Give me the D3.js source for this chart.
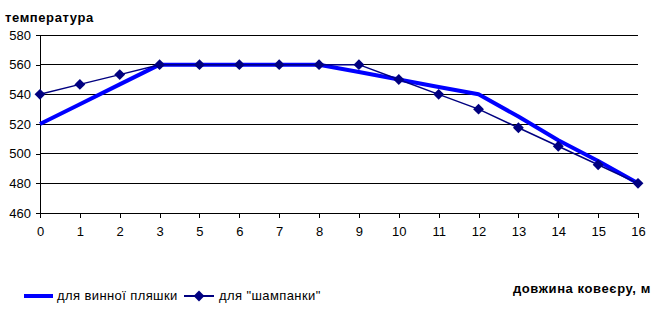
<!DOCTYPE html>
<html><head><meta charset="utf-8">
<script src="https://cdn.jsdelivr.net/npm/d3@7"></script>
<style>body{margin:0;background:#fff}svg{display:block}text{font-family:"Liberation Sans",Arial,sans-serif}</style>
</head><body><svg id="c" width="665" height="311"></svg>
<script>
const categories = ["0","1","2","3","5","6","7","8","9","10","11","12","13","14","15","16"];
const wine = [520,533.3,546.7,560,560,560,560,560,555,550,545,540,525,509,495,480];
const champagne = [540,546.7,553.3,560,560,560,560,560,560,550,540,530,517.5,505,492.5,480];
const yTicks = [460,480,500,520,540,560,580];
const seriesNames = ["для винної пляшки","для \"шампанки\""];

const svg = d3.select("#c");
const x = d3.scalePoint().domain(categories).range([40,638]);
const y = d3.scaleLinear().domain([460,580]).range([213,35]);

// gridlines
svg.append("g").selectAll("line").data(yTicks.filter(v=>v>460)).join("line")
  .attr("x1",40).attr("x2",638).attr("y1",d=>y(d)).attr("y2",d=>y(d))
  .attr("stroke","#000").attr("stroke-width",1).attr("shape-rendering","crispEdges");

const yAxis = svg.append("g").attr("transform","translate(40,0)")
  .call(d3.axisLeft(y).tickValues(yTicks).tickSize(4).tickPadding(5));
const xAxis = svg.append("g").attr("transform","translate(0,213)")
  .call(d3.axisBottom(x).tickSize(5).tickPadding(9));
[yAxis,xAxis].forEach(a=>{
  a.select(".domain").attr("stroke","#000").attr("shape-rendering","crispEdges");
  a.selectAll(".tick line").attr("stroke","#000").attr("shape-rendering","crispEdges");
  a.selectAll("text").attr("font-size",13).attr("fill","#000").attr("font-family","Liberation Sans, Arial, sans-serif");
});

const line = d3.line().x((d,i)=>x(categories[i])).y(d=>y(d));
svg.append("path").datum(wine).attr("d",line).attr("fill","none")
  .attr("stroke","#0000FF").attr("stroke-width",4).attr("stroke-linejoin","round");
svg.append("path").datum(champagne).attr("d",line).attr("fill","none")
  .attr("stroke","#000080").attr("stroke-width",1.5);
const diamond = d3.symbol().type(d3.symbolDiamond2).size(75);
svg.append("g").selectAll("path").data(champagne).join("path")
  .attr("transform",(d,i)=>`translate(${x(categories[i])},${y(d)})`)
  .attr("d",diamond).attr("fill","#000080");

svg.append("text").attr("x",5).attr("y",22).attr("font-size",13).attr("letter-spacing",0.6).attr("font-weight","bold").text("температура");
svg.append("text").attr("x",651).attr("y",293).attr("text-anchor","end").attr("font-size",13).attr("letter-spacing",0.6).attr("font-weight","bold").text("довжина ковеєру, м");

// legend
const lg = svg.append("g");
lg.append("line").attr("x1",24).attr("x2",53).attr("y1",296).attr("y2",296).attr("stroke","#0000FF").attr("stroke-width",4);
lg.append("text").attr("x",57).attr("y",300).attr("font-size",13).attr("letter-spacing",0.4).text(seriesNames[0]);
lg.append("line").attr("x1",184).attr("x2",214).attr("y1",296).attr("y2",296).attr("stroke","#000080").attr("stroke-width",2);
lg.append("path").attr("transform","translate(199,296)").attr("d",diamond).attr("fill","#000080");
lg.append("text").attr("x",219).attr("y",300).attr("font-size",13).attr("letter-spacing",0.4).text(seriesNames[1]);
</script></body></html>
